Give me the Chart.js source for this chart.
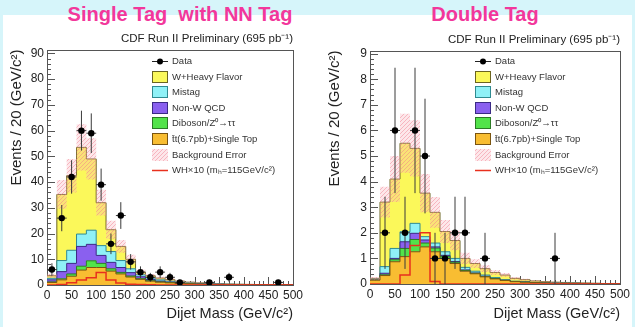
<!DOCTYPE html>
<html>
<head>
<meta charset="utf-8">
<script src="https://cdn.jsdelivr.net/npm/chart.js@4.4.0/dist/chart.umd.min.js"></script>
<style>
  body { margin:0; width:635px; height:327px; background:#d6f5fa; position:relative; overflow:hidden; font-family:"Liberation Sans", Arial, sans-serif; }
  #paper { position:absolute; left:3px; top:15px; width:629px; height:312px; background:#fff; }
  .head { position:absolute; top:4px; font-weight:bold; font-size:20px; line-height:20px; color:#f2379b; white-space:pre; transform:translateX(-50%); }
  canvas { position:absolute; top:0; }
</style>
</head>
<body>
<div id="paper"></div>
<div class="head" style="left:180px">Single Tag  with NN Tag</div>
<div class="head" style="left:485px">Double Tag</div>
<canvas id="single" width="318" height="327" style="left:0"></canvas>
<canvas id="double" width="317" height="327" style="left:318px"></canvas>
<script>
// dijet mass bins, 20 GeV/c2 wide (low edges)
var binLow = [0,20,40,60,80,100,120,140,160,180,200,220,240,260,280,300,320,340,360,380,400,420,440,460,480];
var binWidth = 20;

var seriesNames = ["Data", "W+Heavy Flavor", "Mistag", "Non-W QCD", "Diboson/Z\u2070\u2192\u03c4\u03c4",
                   "t\u0304t(6.7pb)+Single Top", "Background Error", "WH\u00d710 (m\u2095=115GeV/c\u00b2)"];

// ---- single tag with NN tag ----
var singleYTicks  = [0,10,20,30,40,50,60,70,80,90];
var singleData    = [6,26,42,60,59,39,16,27,9,5,3,5,3,1,0,0,1,0,3,0,0,0,0,1,0];
var singleDataErr = [2.45,5.1,6.5,7.75,7.7,6.25,4,5.2,3,2.24,1.73,2.24,1.73,1,0,0,1,0,1.73,0,0,0,0,1,0];
var singleTop     = [1.0,2.0,3.4,5.8,6.8,6.8,5.4,4.3,3.1,2.2,1.5,1.1,0.85,0.6,0.45,0.35,0.28,0.2,0.15,0.12,0.1,0.08,0.06,0.05,0.04];
var singleDiboson = [0.2,0.4,0.9,1.5,2.6,1.6,0.9,0.6,0.4,0.25,0.15,0.1,0.08,0.05,0.04,0.03,0.02,0.02,0.01,0.01,0.01,0.01,0,0,0];
var singleNonW    = [0.8,2.8,4.1,7.7,6.4,3.1,2.5,1.9,1.3,0.75,0.45,0.3,0.17,0.15,0.11,0.08,0.06,0.05,0.04,0.03,0.02,0.02,0.02,0.01,0.01];
var singleMistag  = [0.6,4.3,5.1,4.8,5.5,3.8,4.2,2.7,1.5,0.8,0.7,0.5,0.4,0.3,0.2,0.15,0.12,0.1,0.08,0.06,0.05,0.04,0.03,0.03,0.02];
var singleWHF     = [1.0,25.7,29.0,33.7,27.7,16.7,8.5,5.5,3.7,1.0,0.8,0.7,0.6,0.4,0.3,0.2,0.12,0.11,0.1,0.08,0.06,0.04,0.04,0.03,0.03];
var singleBkgErr  = [0.8,5.6,6.5,9.0,8.0,5.0,3.5,2.5,1.8,1.0,0.7,0.5,0.4,0.3,0.2,0.15,0.12,0.1,0.08,0.06,0.05,0.04,0.03,0.03,0.02];
var singleWH      = [0,0.2,0.9,1.9,2.8,4.9,1.9,0.8,0.3,0.15,0.05,0,0,0,0,0,0,0,0,0,0,0,0,0,0];

// ---- double tag ----
var doubleYTicks  = [0,1,2,3,4,5,6,7,8,9];
var doubleData    = [0,2,6,2,6,5,1,1,2,2,0,1,0,0,0,0,0,0,1,0,0,0,0,0,0];
var doubleDataErr = [0,1.41,2.45,1.41,2.45,2.24,1,1,1.41,1.41,0,1,0,0,0,0,0,0,1,0,0,0,0,0,0];
var doubleTop     = [0.15,0.33,0.87,1.07,1.26,1.45,1.26,1.0,0.8,0.5,0.4,0.28,0.2,0.14,0.09,0.07,0.05,0.04,0.03,0.02,0.02,0.01,0.01,0.01,0.01];
var doubleDiboson = [0.01,0.03,0.08,0.32,0.48,0.15,0.14,0.08,0.05,0.03,0.02,0.01,0.01,0,0,0,0,0,0,0,0,0,0,0,0];
var doubleNonW    = [0.01,0.06,0.05,0.26,0.24,0.12,0.05,0.04,0.03,0.02,0.01,0.01,0,0,0,0,0,0,0,0,0,0,0,0,0];
var doubleMistag  = [0.02,0.26,0.39,0.39,0.39,0.13,0.15,0.14,0.12,0.1,0.07,0.05,0.04,0.03,0.02,0.02,0.01,0.01,0.01,0.01,0.01,0,0,0,0];
var doubleWHF     = [0.03,2.52,2.71,3.46,2.93,1.7,1.2,0.79,0.7,0.35,0.3,0.25,0.2,0.18,0.11,0.08,0.06,0.04,0.03,0.03,0.02,0.03,0.02,0.01,0.01];
var doubleBkgErr  = [0.05,0.6,0.9,1.15,1.1,0.75,0.6,0.45,0.38,0.22,0.17,0.13,0.1,0.08,0.05,0.04,0.03,0.02,0.02,0.01,0.01,0.01,0.01,0,0];
var doubleWH      = [0,0,0,0.35,1.5,2.0,0.1,0,0,0,0,0,0,0,0,0,0,0,0,0,0,0,0,0,0];

// stack order, bottom to top: top, diboson, non-W, mistag, W+HF
var stackFill = ['#f8bd32','#52e34a','#8a60ef','#8ff1f7','#fbf85a'];
var stackEdge = ['#7a5410','#2b7a25','#3a2a85','#2f8a90','#6b6420'];
var stackNames = [seriesNames[5], seriesNames[4], seriesNames[3], seriesNames[2], seriesNames[1]];
var whColor = '#e8301e';
var fontFam = '"Liberation Sans", Arial, sans-serif';

Chart.defaults.font.family = fontFam;

function makeHatch() {
  var c = document.createElement('canvas');
  c.width = 4; c.height = 4;
  var g = c.getContext('2d');
  g.fillStyle = 'rgba(250,175,185,0.3)';
  g.fillRect(0,0,4,4);
  g.strokeStyle = 'rgba(240,120,140,0.45)';
  g.lineWidth = 1;
  g.beginPath();
  g.moveTo(0,4); g.lineTo(4,0);
  g.moveTo(-1,1); g.lineTo(1,-1);
  g.moveTo(3,5); g.lineTo(5,3);
  g.stroke();
  return g.createPattern(c, 'repeat');
}
var hatch = makeHatch();

function steps(vals) {
  let pts = vals.map((v,i) => ({x: binLow[i], y: v}));
  pts.push({x: binLow[binLow.length-1] + binWidth, y: vals[vals.length-1]});
  return pts;
}

function cumulate(parts) {
  let out = [];
  let run = binLow.map(() => 0);
  parts.forEach(p => {
    run = run.map((v,i) => v + p[i]);
    out.push(run);
  });
  return out;
}

function errSegments(data, err) {
  let pts = [];
  for (let i = 0; i < data.length; i++) {
    if (data[i] <= 0) continue;
    let c = binLow[i] + binWidth/2;
    pts.push({x:c, y:data[i]-err[i]}, {x:c, y:data[i]+err[i]}, {x:c, y:null});
    pts.push({x:binLow[i], y:data[i]}, {x:binLow[i]+binWidth, y:data[i]}, {x:c, y:null});
  }
  return pts;
}

function dataPoints(data) {
  let pts = [];
  for (let i = 0; i < data.length; i++) {
    if (data[i] > 0) pts.push({x: binLow[i] + binWidth/2, y: data[i]});
  }
  return pts;
}

// frame and inward ticks, ROOT style
var rootFrame = {
  id: 'rootFrame',
  beforeDatasetsDraw(chart, args, opts) {
    const ctx = chart.ctx, a = chart.chartArea;
    const xs = chart.scales.x, ys = chart.scales.y;
    ctx.save();
    ctx.strokeStyle = '#555';
    ctx.lineWidth = 1;
    ctx.beginPath();
    for (let v = 0; v <= 500; v += 10) {
      let px = Math.round(xs.getPixelForValue(v)) + 0.5;
      let len = v % 50 === 0 ? 8 : 4;
      ctx.moveTo(px, a.bottom); ctx.lineTo(px, a.bottom - len);
    }
    for (let k = 0; k * opts.yStep / 5 <= ys.max; k++) {
      let py = Math.round(ys.getPixelForValue(k * opts.yStep / 5)) + 0.5;
      let len = k % 5 === 0 ? 8 : 4;
      ctx.moveTo(a.left, py); ctx.lineTo(a.left + len, py);
    }
    ctx.stroke();
    ctx.strokeRect(Math.round(a.left) + 0.5, Math.round(a.top) + 0.5, Math.round(a.width), Math.round(a.height));
    ctx.restore();
  }
};

var rootLegend = {
  id: 'rootLegend',
  afterDraw(chart) {
    const ctx = chart.ctx, a = chart.chartArea;
    const x0 = a.left + 105, y0 = 61, dy = 15.6;
    ctx.save();
    ctx.font = '9.5px ' + fontFam;
    ctx.textBaseline = 'middle';
    seriesNames.forEach((name, i) => {
      let y = Math.round(y0 + i * dy);
      if (i === 0) {
        ctx.strokeStyle = '#222'; ctx.lineWidth = 1;
        ctx.beginPath(); ctx.moveTo(x0, y + 0.5); ctx.lineTo(x0 + 16, y + 0.5); ctx.stroke();
        ctx.fillStyle = '#000';
        ctx.beginPath(); ctx.arc(x0 + 8, y + 0.5, 3, 0, Math.PI * 2); ctx.fill();
      } else if (i <= 5) {
        let k = 5 - i;
        ctx.fillStyle = stackFill[k];
        ctx.fillRect(x0, y - 6, 16, 12);
        ctx.strokeStyle = stackEdge[k]; ctx.lineWidth = 1;
        ctx.strokeRect(x0 + 0.5, y - 5.5, 15, 11);
      } else if (i === 6) {
        ctx.fillStyle = hatch;
        ctx.fillRect(x0, y - 6, 16, 12);
      } else {
        ctx.strokeStyle = whColor; ctx.lineWidth = 1.5;
        ctx.beginPath(); ctx.moveTo(x0, y + 0.5); ctx.lineTo(x0 + 16, y + 0.5); ctx.stroke();
      }
      ctx.fillStyle = '#333';
      ctx.fillText(name, x0 + 20, y + 0.5);
    });
    ctx.restore();
  }
};

function buildPanel(id, p) {
  let parts = [p.top, p.diboson, p.nonw, p.mistag, p.whf];
  let stack = cumulate(parts);
  let total = stack[stack.length - 1];
  let datasets = [];
  stack.forEach((vals, k) => {
    datasets.push({
      label: stackNames[k], data: steps(vals), stepped: true,
      borderColor: stackEdge[k], borderWidth: 1, backgroundColor: stackFill[k],
      fill: k === 0 ? 'origin' : '-1', pointRadius: 0, order: 10
    });
  });
  datasets.push({
    label: 'bkgLow', data: steps(total.map((v,i) => Math.max(0, v - p.bkgErr[i]))), stepped: true,
    borderWidth: 0, pointRadius: 0, fill: false, order: 5
  });
  datasets.push({
    label: seriesNames[6], data: steps(total.map((v,i) => v + p.bkgErr[i])), stepped: true,
    borderWidth: 0, pointRadius: 0, fill: '-1', backgroundColor: hatch, order: 5
  });
  datasets.push({
    label: seriesNames[7], data: steps(p.wh), stepped: true,
    borderColor: whColor, borderWidth: 1.5, pointRadius: 0, fill: false, order: 3
  });
  datasets.push({
    label: 'dataErr', data: errSegments(p.data, p.err), borderColor: '#3a3a3a', borderWidth: 1,
    pointRadius: 0, fill: false, spanGaps: false, order: 2
  });
  datasets.push({
    label: seriesNames[0], data: dataPoints(p.data), showLine: false,
    pointRadius: 3.2, pointBackgroundColor: '#000', pointBorderWidth: 0, order: 1
  });

  new Chart(document.getElementById(id), {
    type: 'line',
    data: { datasets: datasets },
    options: {
      responsive: false,
      animation: false,
      events: [],
      layout: { padding: { left: 0, right: p.padRight, top: 0, bottom: 0 } },
      plugins: {
        legend: { display: false },
        tooltip: { enabled: false },
        title: {
          display: true, text: 'CDF Run II Preliminary (695 pb\u207b\u00b9)', align: 'end', color: '#222',
          font: { size: 11.5, weight: 'normal' }, padding: { top: p.titleTop, bottom: p.titleBottom }
        },
        rootFrame: { yStep: p.yStep }
      },
      scales: {
        x: {
          type: 'linear', min: 0, max: 500,
          grid: { display: false, drawTicks: false }, border: { display: false },
          ticks: { stepSize: 50, autoSkip: false, maxRotation: 0, padding: 3, color: '#222', font: { size: 12 } },
          title: { display: true, text: 'Dijet Mass (GeV/c\u00b2)', align: 'end', color: '#222',
                   font: { size: 14.5 }, padding: { top: 0, bottom: 4.3 } },
          afterFit: s => { s.height = p.xHeight; }
        },
        y: {
          type: 'linear', min: 0, max: p.yMax,
          grid: { display: false, drawTicks: false }, border: { display: false },
          ticks: { padding: 3, color: '#222', font: { size: 12 } },
          afterBuildTicks: s => { s.ticks = p.yTicks.map(v => ({ value: v })); },
          title: { display: true, text: 'Events / 20 (GeV/c\u00b2)', align: 'end', color: '#222',
                   font: { size: 15 }, padding: { top: 8, bottom: 0 } },
          afterFit: s => { s.width = p.yWidth; }
        }
      }
    },
    plugins: [rootFrame, rootLegend]
  });
}

buildPanel('single', {
  data: singleData, err: singleDataErr, top: singleTop, diboson: singleDiboson, nonw: singleNonW,
  mistag: singleMistag, whf: singleWHF, bkgErr: singleBkgErr, wh: singleWH, yTicks: singleYTicks,
  yMax: 91.5, yStep: 10, yWidth: 47, xHeight: 42, padRight: 25, titleTop: 31.5, titleBottom: 4.3
});
buildPanel('double', {
  data: doubleData, err: doubleDataErr, top: doubleTop, diboson: doubleDiboson, nonw: doubleNonW,
  mistag: doubleMistag, whf: doubleWHF, bkgErr: doubleBkgErr, wh: doubleWH, yTicks: doubleYTicks,
  yMax: 9.12, yStep: 1, yWidth: 52, xHeight: 43, padRight: 15, titleTop: 32.5, titleBottom: 4.3
});
</script>
</body>
</html>
